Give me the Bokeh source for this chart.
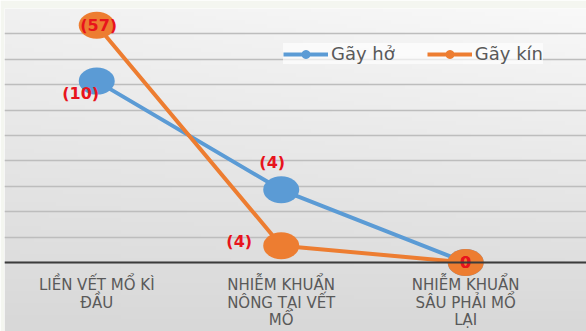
import numpy as np
from bokeh.plotting import figure
from bokeh.models import (Range1d, FixedTicker, Legend, LegendItem,
                          ColumnDataSource)
from bokeh.core.properties import value
from bokeh.embed import file_html
from bokeh.resources import INLINE

# ---- data ----
categories = ["LIỀN VẾT MỔ KÌ\nĐẦU",
              "NHIỄM KHUẨN\nNÔNG TẠI VẾT\nMỔ",
              "NHIỄM KHUẨN\nSÂU PHẢI MỔ\nLẠI"]
series_names = ["Gãy hở", "Gãy kín"]
open_counts = [10, 4, 0]          # Gãy hở (number of cases)
open_pct = [71.4, 28.6, 0.0]      # Gãy hở (%)
closed_counts = [57, 4, 0]        # Gãy kín (number of cases)
closed_pct = [93.4, 6.6, 0.0]     # Gãy kín (%)
y_ticks = [0, 10, 20, 30, 40, 50, 60, 70, 80, 90, 100]

# ---- styles ----
BLUE = "#5b9bd5"
ORANGE = "#ed7d31"
RED = "#e8141c"
FONT = "DejaVu Sans"

# label offsets (screen px) – style only
open_dx = [-16, -9, 0]
open_dy = [12, -27, 0]
closed_dx = [2, -42, 0]
closed_dy = [0, -4, 0]

x0, x1 = -0.5, 2.655
y0, y1 = -27.2, 100

p = figure(width=586, height=331, output_backend="svg", toolbar_location=None,
           x_range=Range1d(x0, x1), y_range=Range1d(y0, y1),
           min_border_left=4, min_border_right=0, min_border_top=8,
           min_border_bottom=0, border_fill_color="#f4f6f0",
           outline_line_color=None)

# gradient background
H, W = 80, 80
img = np.empty((H, W), dtype=np.uint32)
view = img.view(dtype=np.uint8).reshape((H, W, 4))
ty = 1 - np.linspace(0, 1, H)[:, None]   # 0 top ... 1 bottom
tx = np.linspace(0, 1, W)[None, :]
g = 244 - 28 * ty + 8 * (tx - 0.4) * (1 - ty)
g = np.clip(g, 0, 255).astype(np.uint8)
view[:, :, 0] = g
view[:, :, 1] = g
view[:, :, 2] = g
view[:, :, 3] = 255
p.image_rgba(image=[img], x=x0, y=y0, dw=x1 - x0, dh=y1 - y0, level="image")

# axes / grid
p.yaxis.visible = False
p.xgrid.visible = False
p.ygrid.ticker = FixedTicker(ticks=y_ticks)
p.ygrid.grid_line_color = "#bdbdbd"
p.ygrid.grid_line_width = 1.5
p.ygrid.level = "underlay"

xs = list(range(len(categories)))
p.xaxis.ticker = FixedTicker(ticks=xs)
p.xaxis.major_label_overrides = {i: c for i, c in enumerate(categories)}
p.xaxis.fixed_location = 0
p.xaxis.axis_line_color = "#3c3c3c"
p.xaxis.axis_line_width = 2
p.xaxis.major_tick_line_color = None
p.xaxis.minor_tick_line_color = None
p.xaxis.major_label_standoff = 8
p.xaxis.major_label_text_font = FONT
p.xaxis.major_label_text_font_size = "15px"
p.xaxis.major_label_text_color = "#595959"
p.xaxis.major_label_text_line_height = 0.95

items = []
for name, pct, cnt, col, dx, dy in [
        (series_names[0], open_pct, open_counts, BLUE, open_dx, open_dy),
        (series_names[1], closed_pct, closed_counts, ORANGE, closed_dx, closed_dy)]:
    labels = [f"({c})" if c > 0 else "0" for c in cnt]
    src = ColumnDataSource(dict(x=xs, y=pct, label=labels, dx=dx, dy=dy))
    ln = p.line("x", "y", source=src, line_color=col, line_width=4)
    sc = p.scatter("x", "y", source=src, size=9, color=col)
    p.ellipse("x", "y", source=src, width=36, height=27,
              width_units="screen", height_units="screen",
              fill_color=col, line_color=None)
    items.append((name, ln, sc, src))

for name, ln, sc, src in items:
    p.text("x", "y", text="label", source=src, x_offset="dx", y_offset="dy",
           text_align="center", text_baseline="middle",
           text_font=value(FONT), text_font_style="bold",
           text_font_size="16px", text_color=RED)

legend = Legend(items=[LegendItem(label=n, renderers=[l, s]) for n, l, s, _ in items],
                orientation="horizontal", location=(279, 267),
                margin=0, padding=27, spacing=32,
                glyph_width=45, glyph_height=20, label_height=20,
                label_standoff=3,
                label_text_font=FONT, label_text_font_size="18px",
                label_text_color="#595959",
                background_fill_color="white", background_fill_alpha=0.65,
                border_line_color=None)
p.add_layout(legend)

open("out.html", "w").write(file_html(p, INLINE))
